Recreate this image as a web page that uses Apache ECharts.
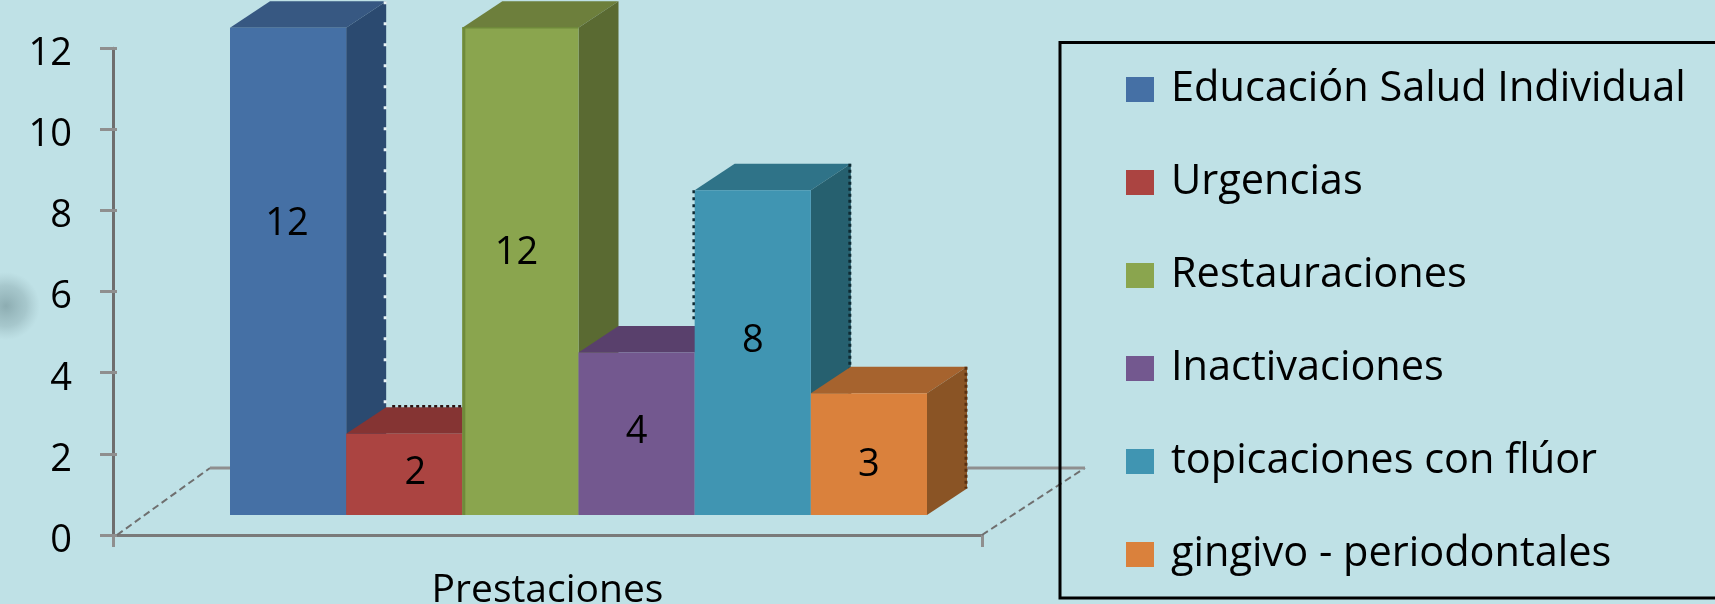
<!DOCTYPE html>
<html><head><meta charset="utf-8">
<style>html,body{margin:0;padding:0;background:#bfe1e6}#c{width:1715px;height:604px}</style>
<script src="https://cdn.jsdelivr.net/npm/echarts@6/dist/echarts.min.js"></script>
</head><body><div id="c"></div>
<script>
const seriesNames = ['Educación Salud Individual','Urgencias','Restauraciones','Inactivaciones','topicaciones con flúor','gingivo - periodontales'];
const seriesValues = [12,2,12,4,8,3];
const yTicks = [0,2,4,6,8,10,12];
const categoryLabel = ['Prestaciones'];
const frontColors = ['#4570a5','#ab4441','#8aa54e','#73588f','#4095b2','#da813c'];
const topColors = ['#375882','#853433','#6d7f3c','#59406c','#2f7388','#a6632e'];
const sideColors = ['#2b4a70','#6e2a29','#5a6a32','#4a3560','#26606f','#8a5425'];
const frontBorders = [null,null,'#6f8a3a',null,null,null];
const labelShiftX = [-1,11,-4,0,0,0];
const labelShiftY = [-47,-1,-18,-2,-11,11];
const backEdgeColors = ['#eaf4f6',null,null,null,'#0e2a33','#5a3010'];
const topEdgeColors = [null,'#2a1010',null,null,null,null];
const leftEdgeSpan = [0,0,0,0,130,0];
const DX = 40, DY = 26.5;
const FONT = '"Open Sans"';

function poly(points, fill){ return {type:'polygon',shape:{points},style:{fill}}; }
function renderBar(i){
  return function(params, api){
    const top = api.coord([i, api.value(1)]);
    const base = api.coord([i, 0]);
    const w = api.size([1,0])[0];
    const l = top[0]-w/2, r = top[0]+w/2, t = top[1], b = base[1];
    const kids = [
      poly([[l,t],[r,t],[r+DX,t-DY],[l+DX,t-DY]], topColors[i]),
      poly([[r,t],[r+DX,t-DY],[r+DX,b-DY],[r,b]], sideColors[i]),
      {type:'rect',shape:{x:l,y:t,width:w,height:b-t},style:{fill:frontColors[i]}}
    ];
    if(frontBorders[i]){
      kids.push({type:'line',shape:{x1:l+1.5,y1:t,x2:l+1.5,y2:b},style:{stroke:frontBorders[i],lineWidth:3}});
      kids.push({type:'line',shape:{x1:l,y1:t,x2:r,y2:t},style:{stroke:frontBorders[i],lineWidth:1.5}});
    }
    if(backEdgeColors[i]){
      kids.push({type:'line',shape:{x1:r+DX-1,y1:t-DY,x2:r+DX-1,y2:b-DY},
        style:{stroke:backEdgeColors[i],lineWidth:3,lineDash:i===0?[3,18]:[3,3]}});
    }
    if(topEdgeColors[i]){
      kids.push({type:'line',shape:{x1:l+DX+6,y1:t-DY-1,x2:r,y2:t-DY-1},
        style:{stroke:topEdgeColors[i],lineWidth:2.5,lineDash:[3,3]}});
    }
    if(leftEdgeSpan[i]){
      kids.push({type:'line',shape:{x1:l-1,y1:t,x2:l-1,y2:t+leftEdgeSpan[i]},
        style:{stroke:backEdgeColors[i],lineWidth:2.5,lineDash:[3,4]}});
    }
    kids.push({type:'text',style:{text:String(api.value(1)),x:top[0]+labelShiftX[i],y:(t+b)/2+labelShiftY[i],
      align:'center',verticalAlign:'middle',fontFamily:FONT,fontSize:38,fill:'#000'}});
    return {type:'group',children:kids};
  };
}
function renderFloor(params, api){
  const c = params.coordSys;
  const x0 = c.x, x1 = c.x+c.width, y0 = c.y+c.height;
  const yb = y0-67;
  const dia = {stroke:'#6f6f6f',lineWidth:2,lineDash:[7,4]};
  const hor = {stroke:'#8f8f8f',lineWidth:3};
  return {type:'group',children:[
    {type:'line',shape:{x1:x0+4,y1:y0,x2:x0+97,y2:yb},style:dia},
    {type:'line',shape:{x1:x0+97,y1:yb,x2:x0+118,y2:yb},style:hor},
    {type:'line',shape:{x1:x1,y1:y0,x2:x1+103,y2:yb},style:dia},
    {type:'line',shape:{x1:x1-20,y1:yb,x2:x1+103,y2:yb},style:hor}
  ]};
}
const series = [{type:'custom',name:'floor',coordinateSystem:'cartesian2d',xAxisIndex:0,yAxisIndex:0,
  silent:true,clip:false,renderItem:renderFloor,data:[[0,0]],z:1}];
seriesNames.forEach((n,i)=>series.push({
  type:'custom',name:n,coordinateSystem:'cartesian2d',xAxisIndex:1,yAxisIndex:2,
  clip:false,z:2,renderItem:renderBar(i),itemStyle:{color:frontColors[i]},
  encode:{x:0,y:1},data:[[i,seriesValues[i]]]
}));
const chart = echarts.init(document.getElementById('c'),null,{renderer:'canvas'});
chart.setOption({
  animation:false,
  backgroundColor:'#bfe1e6',
  textStyle:{fontFamily:FONT},
  graphic:[
    {type:'ellipse',z:0,silent:true,shape:{cx:6,cy:306,rx:34,ry:58},
     style:{fill:new echarts.graphic.RadialGradient(.5,.5,.5,[
       {offset:0,color:'rgba(90,120,125,.5)'},{offset:.6,color:'rgba(110,140,145,.3)'},{offset:1,color:'rgba(130,160,165,0)'}])}},
    {type:'rect',z:5,silent:true,shape:{x:1060,y:42.5,width:800,height:555.5},
     style:{fill:'transparent',stroke:'#000',lineWidth:3}}
  ],
  grid:[
    {left:113,right:733,top:48.2,bottom:69,containLabel:false,outerBoundsMode:'none'},
    {left:230,width:697,top:27.7,height:487.3,outerBoundsMode:'none'}
  ],
  xAxis:[
    {gridIndex:0,type:'category',data:categoryLabel,
     axisLine:{show:true,lineStyle:{color:'#7a7a7a',width:3}},
     axisTick:{show:true,length:12,lineStyle:{color:'#8f8f8f',width:3}},
     axisLabel:{margin:36,fontFamily:FONT,fontSize:39,color:'#000'}},
    {gridIndex:1,type:'category',data:seriesNames,show:false}
  ],
  yAxis:[
    {gridIndex:0,type:'value',min:yTicks[0],max:yTicks[yTicks.length-1],interval:2,
     axisLine:{show:true,lineStyle:{color:'#6e6e6e',width:3}},
     axisTick:{show:true,length:13,lineStyle:{color:'#8f8f8f',width:3}},
     axisLabel:{margin:41,formatter:'{a|{value}}',color:'#000',
       rich:{a:{fontFamily:FONT,fontSize:38,color:'#000',padding:[12,0,0,0]}}},
     splitLine:{show:false}},
    {gridIndex:0,type:'value',min:0,max:12,interval:2,position:'left',
     axisLine:{show:false},axisLabel:{show:false},splitLine:{show:false},
     axisTick:{show:true,inside:true,length:4,lineStyle:{color:'#8f8f8f',width:3}}},
    {gridIndex:1,type:'value',min:0,max:12,show:false}
  ],
  legend:{
    show:true,orient:'vertical',left:1126,top:68.5,padding:0,
    data:seriesNames,icon:'rect',itemWidth:28,itemHeight:25,itemGap:51,selectedMode:false,
    textStyle:{fontFamily:FONT,fontSize:41.5,color:'#000',padding:[0,0,0,12]}
  },
  series
});
</script></body></html>
